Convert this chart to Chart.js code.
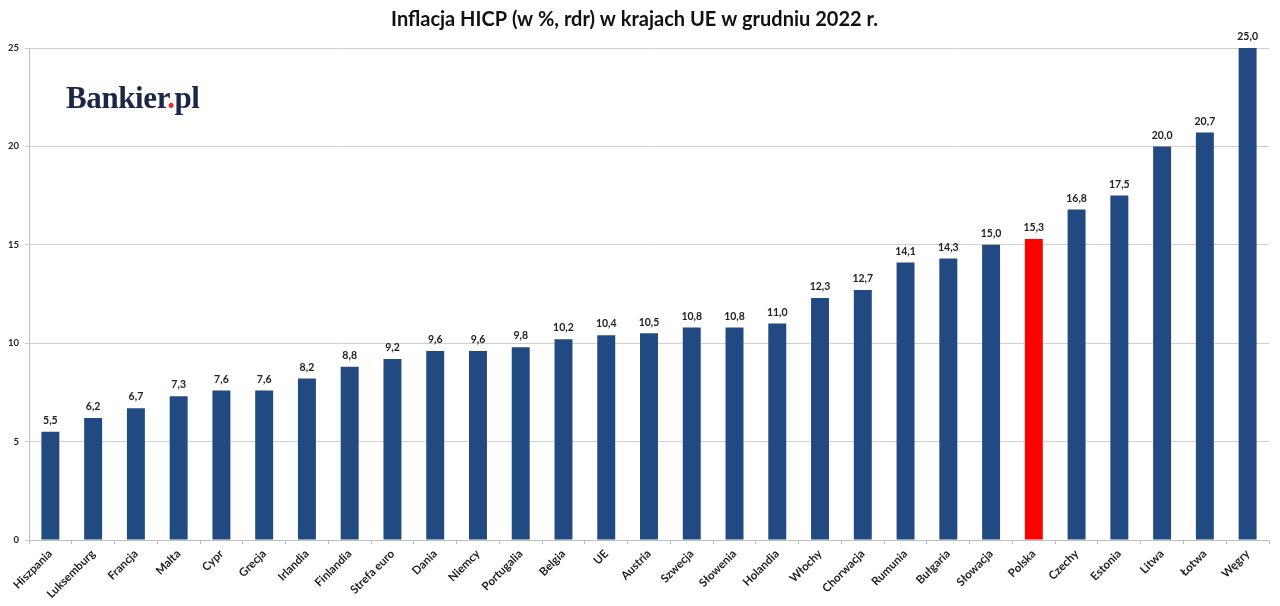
<!DOCTYPE html>
<html lang="pl">
<head>
    <meta charset="UTF-8">
    <title>Inflacja HICP w krajach UE</title>
    <script src="https://cdn.jsdelivr.net/npm/chart.js"></script>
    <style>
        html, body { margin: 0; padding: 0; background: #fff; }
        .wrap { position: relative; width: 1280px; height: 606px; }
        .logo {
            position: absolute; left: 66px; top: 80px;
            font-family: "Liberation Serif", serif; font-weight: bold;
            font-size: 31px; color: #1b2747; letter-spacing: -0.4px;
        }
        .logo span { color: #e0302a; }
    </style>
</head>
<body>
<div class="wrap">
    <canvas id="wykres" width="1280" height="606"></canvas>
    <div class="logo">Bankier<span>.</span>pl</div>
</div>
<script>
    // dane
    var kraje = ["Hiszpania", "Luksemburg", "Francja", "Malta", "Cypr", "Grecja", "Irlandia", "Finlandia",
        "Strefa euro", "Dania", "Niemcy", "Portugalia", "Belgia", "UE", "Austria", "Szwecja", "Słowenia",
        "Holandia", "Włochy", "Chorwacja", "Rumunia", "Bułgaria", "Słowacja", "Polska", "Czechy", "Estonia",
        "Litwa", "Łotwa", "Węgry"]
    var inflacja = [5.5, 6.2, 6.7, 7.3, 7.6, 7.6, 8.2, 8.8, 9.2, 9.6, 9.6, 9.8, 10.2, 10.4, 10.5, 10.8, 10.8,
        11.0, 12.3, 12.7, 14.1, 14.3, 15.0, 15.3, 16.8, 17.5, 20.0, 20.7, 25.0]
    var wyroznij = "Polska"

    var kolory = kraje.map(function (k) { return k == wyroznij ? "#ff0000" : "#214a82" })

    // etykiety z wartościami nad słupkami
    var etykiety = {
        id: "etykiety",
        afterDatasetsDraw: function (chart) {
            var ctx = chart.ctx
            var meta = chart.getDatasetMeta(0)
            ctx.save()
            ctx.font = "bold 10.5px Lato"
            ctx.fillStyle = "#222"
            ctx.textAlign = "center"
            ctx.textBaseline = "bottom"
            meta.data.forEach(function (bar, i) {
                ctx.fillText(inflacja[i].toFixed(1).replace(".", ","), bar.x, bar.y - 6)
            })
            ctx.restore()
        }
    }

    new Chart(document.getElementById("wykres").getContext("2d"), {
        type: "bar",
        data: {
            labels: kraje,
            datasets: [{
                data: inflacja,
                backgroundColor: kolory,
                barPercentage: 0.42,
                categoryPercentage: 1
            }]
        },
        options: {
            responsive: false,
            animation: false,
            layout: { padding: { left: 0, right: 11, top: 0, bottom: 0 } },
            plugins: {
                legend: { display: false },
                tooltip: { enabled: false },
                title: {
                    display: true,
                    text: "Inflacja HICP (w %, rdr) w krajach UE w grudniu 2022 r.",
                    color: "#111",
                    font: { family: "Lato", size: 20, weight: "bold" },
                    padding: { top: 8, bottom: 16 }
                }
            },
            scales: {
                x: {
                    afterFit: function (scale) { scale.height = 66 },
                    grid: { drawOnChartArea: false, drawTicks: true, tickLength: 4, color: "#bdbdbd" },
                    border: { color: "#bdbdbd" },
                    ticks: {
                        color: "#222",
                        font: { family: "Lato", size: 11.5, weight: "bold" },
                        minRotation: 45,
                        maxRotation: 45,
                        autoSkip: false
                    }
                },
                y: {
                    min: 0,
                    max: 25,
                    afterFit: function (scale) { scale.width = 29 },
                    grid: { color: "#cfcfcf", tickLength: 4 },
                    border: { color: "#bdbdbd" },
                    ticks: {
                        stepSize: 5,
                        padding: 6,
                        color: "#222",
                        font: { family: "Lato", size: 9.5, weight: "bold" }
                    }
                }
            }
        },
        plugins: [etykiety]
    })
</script>
</body>
</html>
